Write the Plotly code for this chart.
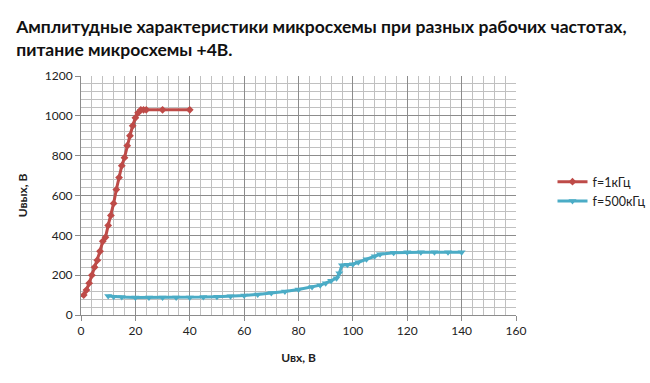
import plotly.graph_objects as go

title_text = "Амплитудные характеристики микросхемы при разных рабочих частотах,<br>питание микросхемы +4В."

x_1k = [1, 2, 3, 4, 5, 6, 7, 8, 9, 10, 11, 12, 13, 14, 15, 16, 17, 18, 19, 20, 21, 22, 23, 24, 30, 40]
y_1k = [100, 125, 160, 200, 240, 275, 320, 370, 390, 450, 500, 560, 630, 690, 750, 790, 850, 900, 950, 990, 1015, 1030, 1030, 1030, 1030, 1030]

x_500k = [10, 12, 15, 20, 25, 30, 35, 40, 45, 50, 55, 60, 65, 70, 75, 80, 85, 88, 90, 92, 94, 95, 96, 98, 100, 102, 105, 108, 110, 115, 120, 125, 130, 135, 140]
y_500k = [95, 92, 90, 88, 88, 88, 88, 88, 90, 92, 94, 98, 103, 110, 118, 128, 140, 150, 160, 172, 185, 210, 250, 252, 255, 265, 280, 295, 305, 312, 315, 315, 315, 315, 315]

names = ["f=1кГц", "f=500кГц"]
x_ticks = [0, 20, 40, 60, 80, 100, 120, 140, 160]
y_ticks = [0, 200, 400, 600, 800, 1000, 1200]

RED = "#BE4B48"
BLUE = "#4BACC6"

fig = go.Figure()
fig.add_trace(go.Scatter(x=x_1k, y=y_1k, name=names[0], mode="lines+markers",
                         line=dict(color=RED, width=3),
                         marker=dict(symbol="diamond", size=6, color=RED)))
fig.add_trace(go.Scatter(x=x_500k, y=y_500k, name=names[1], mode="lines+markers",
                         line=dict(color=BLUE, width=3),
                         marker=dict(symbol="triangle-down", size=7, color=BLUE)))

fig.update_layout(
    width=650, height=383,
    margin=dict(l=81, r=134, t=76, b=68),
    paper_bgcolor="white", plot_bgcolor="white",
    font=dict(family="Lato", size=12, color="#222"),
    title=dict(text="<b>" + title_text + "</b>", x=0.025, xanchor="left", y=0.914, yanchor="top",
               font=dict(family="Lato", size=17.5, color="#111")),
    xaxis=dict(range=[0, 160], tickvals=x_ticks, showgrid=True, gridcolor="#8c8c8c", gridwidth=1,
               minor=dict(dtick=4, showgrid=True, gridcolor="#c0c0c0", ticks=""),
               showline=True, linecolor="#8c8c8c", ticks="outside", ticklen=5, tickcolor="#8c8c8c",
               zeroline=False, automargin=False,
               title=dict(text="<b>Uвх, В</b>", font=dict(size=12), standoff=16)),
    yaxis=dict(range=[0, 1200], tickvals=y_ticks, showgrid=True, gridcolor="#8c8c8c", gridwidth=1,
               minor=dict(dtick=40, showgrid=True, gridcolor="#c0c0c0", ticks=""),
               showline=True, linecolor="#8c8c8c", ticks="outside", ticklen=5, tickcolor="#8c8c8c",
               zeroline=False, automargin=False,
               title=dict(text="<b>Uвых, В</b>", font=dict(size=12), standoff=14)),
    legend=dict(xref="container", yref="container", x=0.85, y=0.5, xanchor="left", yanchor="middle",
                bgcolor="rgba(0,0,0,0)", font=dict(size=12.5), tracegroupgap=0),
)

fig.write_html("out.html", config={"displayModeBar": False},
               post_script="document.body.style.margin='0';")
